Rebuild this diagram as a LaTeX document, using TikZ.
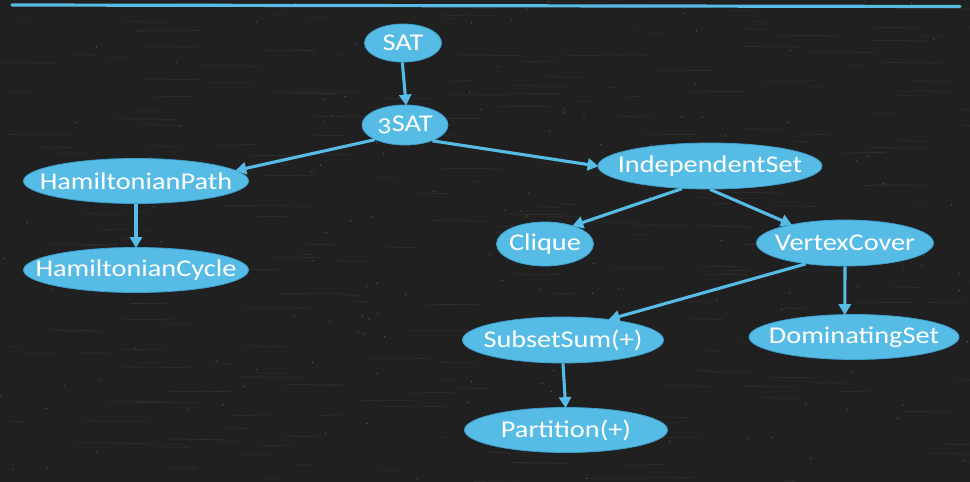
\documentclass[tikz,border=0pt]{standalone}
\usepackage{fontspec}
\setmainfont[Numbers=OldStyle,FakeStretch=1.18]{Carlito}
\usetikzlibrary{shapes.geometric,arrows.meta}
\definecolor{board}{RGB}{32,32,32}
\definecolor{chalkblue}{RGB}{87,188,229}
\definecolor{edgeblue}{RGB}{62,160,205}
\newcommand{\lbl}[1]{\makebox[0pt]{#1}}
\begin{document}
\begin{tikzpicture}[x=1pt,y=-1pt,
  prob/.style={ellipse,fill=chalkblue,draw=edgeblue,line width=0.8pt,inner sep=0pt,
    text=white,font=\fontsize{24}{26}\selectfont},
  red/.style={draw=chalkblue,line width=3.1pt,-{Triangle[length=11pt,width=12pt]},shorten >=-1pt}]
\useasboundingbox (0,0) rectangle (970,482);
\fill[board] (0,0) rectangle (970,482);
\pgfmathsetseed{7}
\foreach \i in {1,...,260}{
  \pgfmathsetmacro{\xx}{rnd*970}
  \pgfmathsetmacro{\yy}{rnd*482}
  \pgfmathsetmacro{\ll}{10+rnd*60}
  \draw[white,opacity=0.05,line width=0.8pt] (\xx,\yy) -- ++(\ll,0.5);
}
\foreach \i in {1,...,150}{
  \pgfmathsetmacro{\xx}{rnd*970}
  \pgfmathsetmacro{\yy}{rnd*482}
  \fill[white,opacity=0.25] (\xx,\yy) circle (0.7pt);
}
\draw[chalkblue,line width=3.2pt,line cap=round] (12,5) -- (960,6.5);

\node[prob,minimum width=77pt,minimum height=38pt] (sat) at (403,43) {\lbl{SAT}};
\node[prob,minimum width=86pt,minimum height=40pt] (tsat) at (405,125) {\lbl{3SAT}};
\node[prob,minimum width=225pt,minimum height=45pt] (hp) at (136,181) {\lbl{HamiltonianPath}};
\node[prob,minimum width=225pt,minimum height=45pt] (hc) at (136,270) {\lbl{HamiltonianCycle}};
\node[prob,minimum width=224pt,minimum height=46pt] (is) at (710,166) {\lbl{IndependentSet}};
\node[prob,minimum width=97pt,minimum height=44pt] (cl) at (545,244) {\lbl{Clique}};
\node[prob,minimum width=177pt,minimum height=46pt] (vc) at (845,243) {\lbl{VertexCover}};
\node[prob,minimum width=201pt,minimum height=46pt] (ss) at (563,340) {\lbl{SubsetSum(+)}};
\node[prob,minimum width=210pt,minimum height=45pt] (ds) at (854,337) {\lbl{DominatingSet}};
\node[prob,minimum width=203pt,minimum height=45pt] (pa) at (566,430) {\lbl{Partition(+)}};

\draw[red] (sat.-92) -- (tsat.87);
\draw[red] (tsat.-154) -- (hp.6);
\draw[red] (tsat.-30) -- (is.180);
\draw[red] (hp.-90) -- (hc.90);
\draw[red] (is.-141) -- (cl.33);
\draw[red] (is.-90) -- (vc.161);
\draw[red] (vc.-152) -- (ss.24);
\draw[red] (vc.-90) -- (ds.112);
\draw[red] (ss.-90) -- (pa.91);
\end{tikzpicture}
\end{document}
